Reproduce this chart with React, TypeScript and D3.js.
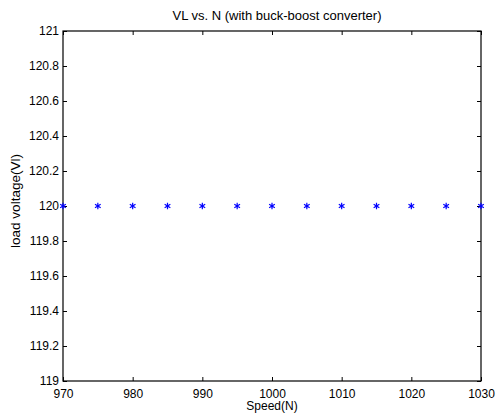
import React, { useEffect, useRef } from "react";
import * as d3 from "d3";

const speeds = [970, 975, 980, 985, 990, 995, 1000, 1005, 1010, 1015, 1020, 1025, 1030];
const loadVoltage = [120, 120, 120, 120, 120, 120, 120, 120, 120, 120, 120, 120, 120];
const xTicks = [970, 980, 990, 1000, 1010, 1020, 1030];
const yTicks = [119, 119.2, 119.4, 119.6, 119.8, 120, 120.2, 120.4, 120.6, 120.8, 121];

const W = 496;
const H = 414;
const margin = { top: 31, right: 15, bottom: 33, left: 63 };

const App = () => {
  const svgRef = useRef<SVGSVGElement>(null);

  useEffect(() => {
    const svg = d3.select(svgRef.current);
    svg.selectAll("*").remove();
    const iw = W - margin.left - margin.right;
    const ih = H - margin.top - margin.bottom;
    const font = "'Liberation Sans', Arial, sans-serif";

    const x = d3.scaleLinear().domain([970, 1030]).range([0, iw]);
    const y = d3.scaleLinear().domain([119, 121]).range([ih, 0]);

    const g = svg.append("g").attr("transform", `translate(${margin.left},${margin.top})`);

    const styleAxis = (a: any) => {
      a.select(".domain").remove();
      a.selectAll("line").attr("stroke", "#000");
      a.selectAll("text").attr("font-family", font).attr("font-size", 12).attr("fill", "#000");
    };

    // ticks point inward on all four sides
    g.append("g")
      .attr("transform", `translate(0,${ih})`)
      .call(d3.axisBottom(x).tickValues(xTicks).tickSizeInner(-4).tickSizeOuter(0).tickPadding(8).tickFormat(d3.format("d")))
      .call(styleAxis);
    g.append("g")
      .call(d3.axisTop(x).tickValues(xTicks).tickSizeInner(-4).tickSizeOuter(0).tickFormat(() => ""))
      .call(styleAxis);
    g.append("g")
      .call(d3.axisLeft(y).tickValues(yTicks).tickSizeInner(-4).tickSizeOuter(0).tickPadding(4).tickFormat((d: any) => String(+(+d).toFixed(1))))
      .call(styleAxis);
    g.append("g")
      .attr("transform", `translate(${iw},0)`)
      .call(d3.axisRight(y).tickValues(yTicks).tickSizeInner(-4).tickSizeOuter(0).tickFormat(() => ""))
      .call(styleAxis);

    g.append("rect")
      .attr("width", iw)
      .attr("height", ih)
      .attr("fill", "none")
      .attr("stroke", "#000")
      .attr("stroke-width", 1.2);

    // asterisk markers
    const star = d3.symbol().type(d3.symbolAsterisk).size(30);
    g.selectAll(".pt")
      .data(speeds.map((s, i) => ({ s, v: loadVoltage[i] })))
      .join("path")
      .attr("class", "pt")
      .attr("transform", (d) => `translate(${x(d.s)},${y(d.v)})`)
      .attr("d", star as any)
      .attr("fill", "none")
      .attr("stroke", "#0000ff")
      .attr("stroke-width", 1.2);

    svg.append("text")
      .attr("x", 277)
      .attr("y", 20)
      .attr("text-anchor", "middle")
      .attr("font-family", font)
      .attr("font-size", 13)
      .text("VL vs. N (with buck-boost converter)");

    svg.append("text")
      .attr("x", margin.left + iw / 2)
      .attr("y", 410)
      .attr("text-anchor", "middle")
      .attr("font-family", font)
      .attr("font-size", 12)
      .text("Speed(N)");

    svg.append("text")
      .attr("transform", `translate(20,201) rotate(-90)`)
      .attr("text-anchor", "middle")
      .attr("font-family", font)
      .attr("font-size", 13.5)
      .text("load voltage(Vl)");
  }, []);

  return (
    <svg
      ref={svgRef}
      width={W}
      height={H}
      style={{ position: "absolute", left: 0, top: 0, background: "#fff" }}
    />
  );
};

export default App;
